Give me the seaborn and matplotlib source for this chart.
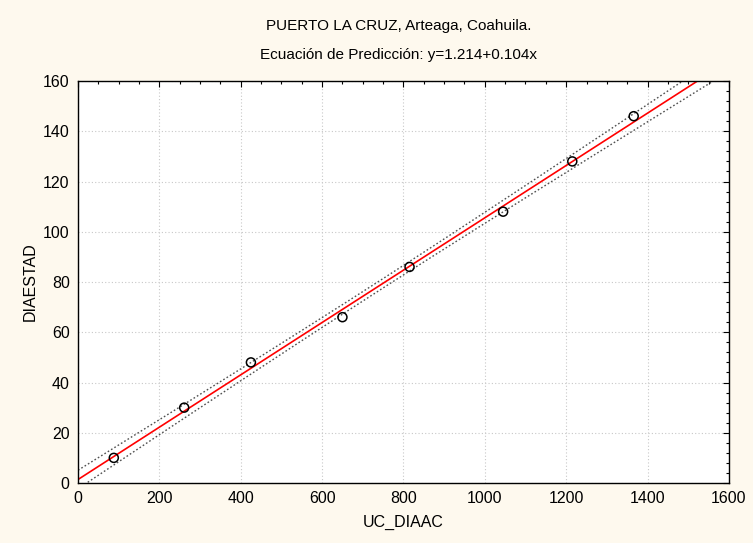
import matplotlib
matplotlib.use('Agg')
import matplotlib.pyplot as plt
import numpy as np
import pandas as pd
import seaborn as sns
from matplotlib.ticker import MultipleLocator

# Data
uc_diaac = [88, 261, 425, 650, 815, 1045, 1215, 1366]
diaestad = [10, 30, 48, 66, 86, 108, 128, 146]
title_lines = ['PUERTO LA CRUZ, Arteaga, Coahuila.',
               'Ecuación de Predicción: y=1.214+0.104x']

df = pd.DataFrame({'UC_DIAAC': uc_diaac, 'DIAESTAD': diaestad})

# Linear fit and 95% confidence band of the mean
x = np.array(uc_diaac, dtype=float)
y = np.array(diaestad, dtype=float)
n = len(x)
slope, intercept = np.polyfit(x, y, 1)
resid = y - (intercept + slope * x)
s = np.sqrt((resid ** 2).sum() / (n - 2))
sxx = ((x - x.mean()) ** 2).sum()
t_val = 2.447  # t(0.975, df=6)
grid = np.linspace(0, 1600, 321)
fit = intercept + slope * grid
half = t_val * s * np.sqrt(1 / n + (grid - x.mean()) ** 2 / sxx)
df_line = pd.DataFrame({'x': grid, 'fit': fit, 'lo': fit - half, 'hi': fit + half})

sns.set_style('white', {'text.color': 'black', 'axes.labelcolor': 'black',
                        'xtick.color': 'black', 'ytick.color': 'black'})
plt.rcParams['font.family'] = ['Liberation Sans', 'DejaVu Sans']

bg = '#fef9ee'
fig, ax = plt.subplots(figsize=(7.53, 5.43), dpi=100)
fig.patch.set_facecolor(bg)
ax.set_facecolor('white')
fig.subplots_adjust(left=0.1036, right=0.968, top=0.8508, bottom=0.1105)

sns.lineplot(data=df_line, x='x', y='lo', ax=ax, color='#505050',
             linestyle=(0, (1.2, 1.6)), linewidth=1.0)
sns.lineplot(data=df_line, x='x', y='hi', ax=ax, color='#505050',
             linestyle=(0, (1.2, 1.6)), linewidth=1.0)
sns.lineplot(data=df_line, x='x', y='fit', ax=ax, color='#ff0000', linewidth=1.2)
sns.scatterplot(data=df, x='UC_DIAAC', y='DIAESTAD', ax=ax, marker='o',
                s=42, facecolor='none', edgecolor='black', linewidth=1.1, zorder=5)

ax.set_xlim(0, 1600)
ax.set_ylim(0, 160)
ax.xaxis.set_major_locator(MultipleLocator(200))
ax.xaxis.set_minor_locator(MultipleLocator(50))
ax.yaxis.set_major_locator(MultipleLocator(20))
ax.yaxis.set_minor_locator(MultipleLocator(4))
ax.tick_params(which='both', direction='in', top=True, right=True,
               colors='black', labelcolor='black', labelsize=11.5, width=0.8)
ax.tick_params(which='major', length=4, pad=6)
ax.tick_params(which='minor', length=2.5)
ax.grid(True, which='major', color='#c8c8c8', linestyle=(0, (1, 2)), linewidth=0.8)
for sp in ax.spines.values():
    sp.set_color('black')
    sp.set_linewidth(1.0)

ax.set_xlabel('UC_DIAAC', fontsize=11.5, labelpad=6, color='black')
ax.set_ylabel('DIAESTAD', fontsize=11.5, labelpad=4, color='black')

fig.text(0.529, 0.952, title_lines[0], ha='center', va='center', fontsize=11, color='black')
fig.text(0.529, 0.899, title_lines[1], ha='center', va='center', fontsize=11, color='black')

fig.savefig('out.png', dpi=100, facecolor=bg)
